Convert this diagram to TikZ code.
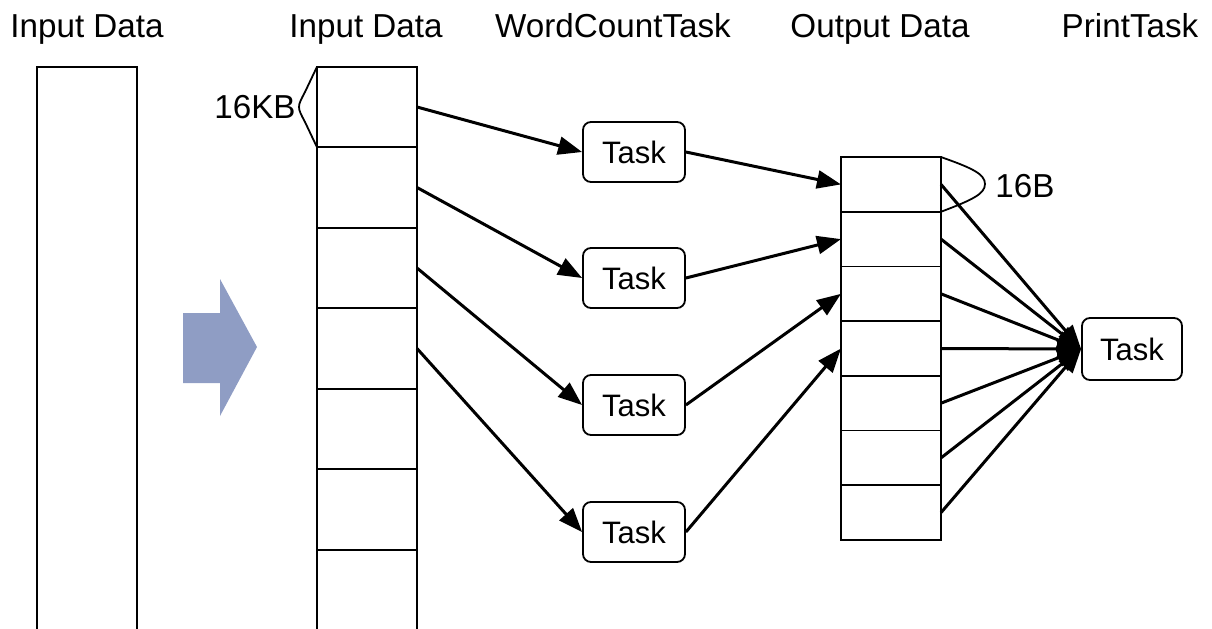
\documentclass[tikz,border=0pt]{standalone}
\usepackage{fontspec}
\setmainfont{Liberation Sans}
\usepackage{xcolor}
\usetikzlibrary{arrows.meta,positioning}

\definecolor{arrowblue}{RGB}{143,157,196}

\begin{document}
\begin{tikzpicture}[x=0.5pt,y=-0.5pt,
  cell/.style={draw,line width=0.9pt,minimum width=50pt,minimum height=40.25pt,inner sep=0pt,outer sep=0pt},
  outcell/.style={cell,minimum height=27.35pt},
  task/.style={draw,line width=0.9pt,rounded corners=4pt,minimum width=51pt,minimum height=30pt,inner sep=0pt,font=\fontsize{15.5}{18}\selectfont},
  flow/.style={line width=1.5pt,-{Triangle[length=12pt,width=9pt]}},
  title/.style={font=\fontsize{16.6}{19}\selectfont}]
  \useasboundingbox (0,0) rectangle (1212,628);
  \clip (0,0) rectangle (1212,628);
  % column titles
  \node[title,anchor=base] (tin) at (87,37) {Input Data};
  \node[title,anchor=base] (tcells) at (366,37) {Input Data};
  \node[title,anchor=base] (twc) at (613,37) {WordCountTask};
  \node[title,anchor=base] (tout) at (880,37) {Output Data};
  \node[title,anchor=base] (tprint) at (1130,37) {PrintTask};
  % whole input (open at the bottom)
  \draw[line width=0.9pt] (37,640) -- (37,67) -- (137,67) -- (137,640);
  % split arrow
  \fill[arrowblue] (183,313) -- (220,313) -- (220,279) -- (257,347) -- (220,416) -- (220,383) -- (183,383) -- cycle;
  % input blocks
  \node[cell] (in1) at (367,107) {};
  \foreach \i [count=\j from 2] in {1,...,6}
    \node[cell,below=0pt of in\i] (in\j) {};
  \draw[line width=0.9pt] (in1.north west) -- (305,92) .. controls (297,107) .. (305,122) -- (in1.south west);
  \node[title,left,inner sep=1pt] (kb) at (298,107) {16KB};
  % word count tasks
  \node[task] (wc1) at (634,152) {Task};
  \node[task] (wc2) at (634,278) {Task};
  \node[task] (wc3) at (634,405) {Task};
  \node[task] (wc4) at (634,532) {Task};
  % output blocks
  \node[outcell] (out1) at (891,184.4) {};
  \foreach \i [count=\j from 2] in {1,...,6}
    \node[outcell,below=0pt of out\i] (out\j) {};
  \draw[line width=0.9pt] (out1.north east) .. controls (972,168) and (985,174) .. (985,184) .. controls (985,194) and (972,200) .. (out1.south east);
  \node[title,right,inner sep=1pt] (b) at (993,186) {16B};
  % print task
  \node[task,minimum width=50pt,minimum height=31pt] (print) at (1132,349) {Task};
  % connectors
  \draw[flow] (in1.east) -- (wc1.west);
  \draw[flow] (in2.east) -- (wc2.west);
  \draw[flow] (in3.east) -- (wc3.west);
  \draw[flow] (in4.east) -- (wc4.west);
  \draw[flow] (wc1.east) -- (out1.west);
  \draw[flow] (wc2.east) -- (out2.west);
  \draw[flow] (wc3.east) -- (out3.west);
  \draw[flow] (wc4.east) -- (out4.west);
  \foreach \i in {1,...,7}
    \draw[flow] (out\i.east) -- (print.west);
\end{tikzpicture}
\end{document}
